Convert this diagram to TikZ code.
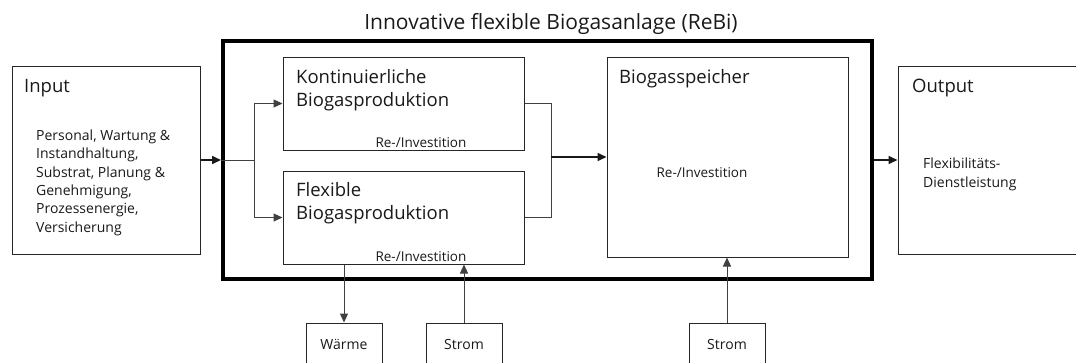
\documentclass[tikz,border=0pt]{standalone}
\usepackage{fontspec}
\setmainfont{Open Sans}
\usetikzlibrary{arrows.meta}

\tikzset{
  box/.style={draw=black!85, line width=1pt, rectangle, inner sep=0pt},
  frame/.style={draw=black, line width=4pt, rectangle, inner sep=0pt},
  link/.style={draw=black!75, line width=1pt},
  arr/.style={link, -{Triangle[length=9pt,width=8pt]}},
  mainarr/.style={draw=black!90, line width=1.6pt, -{Triangle[length=9pt,width=8pt]}},
  heading/.style={anchor=base west, inner sep=0pt, font=\fontsize{18.5}{23}\selectfont, align=left, text=black!90},
  small/.style={anchor=base west, inner sep=0pt, font=\fontsize{14}{18.3}\selectfont, align=left, text=black!90},
  tiny/.style={anchor=base, inner sep=0pt, font=\fontsize{13.5}{15}\selectfont, text=black!90},
}

\begin{document}
\begin{tikzpicture}[x=1pt,y=-1pt]
\useasboundingbox (0,0) rectangle (1076,362);
\clip (0,0) rectangle (1076,362);

% title and outer frame
\node[anchor=base, inner sep=0pt, font=\fontsize{21}{24}\selectfont, text=black!90] (title) at (551,29) {Innovative flexible Biogasanlage (ReBi)};
\node[frame, minimum width=649pt, minimum height=238pt] (frame) at (547.5,160) {};

% input and output boxes (base anchors sit on the last text line)
\node[box, minimum width=188pt, minimum height=188pt] (input) at (106,160) {};
\node[heading] (inputlbl) at (24,92) {Input};
\node[small] (inputtxt) at (36,232) {Personal, Wartung \&\\Instandhaltung,\\Substrat, Planung \&\\Genehmigung,\\Prozessenergie,\\Versicherung};

\node[box, minimum width=190pt, minimum height=188pt] (output) at (993,160) {};
\node[heading] (outputlbl) at (912,92) {Output};
\node[small] (outputtxt) at (923,187) {Flexibilitäts-\\Dienstleistung};

% production units
\node[box, minimum width=241pt, minimum height=93pt] (kont) at (403.5,103.5) {};
\node[heading] (kontlbl) at (296,106) {Kontinuierliche\\Biogasproduktion};
\node[tiny] (kontinv) at (421,147) {Re-/Investition};

\node[box, minimum width=241pt, minimum height=93pt] (flex) at (403.5,217.5) {};
\node[heading] (flexlbl) at (296,219) {Flexible\\Biogasproduktion};
\node[tiny] (flexinv) at (421,261) {Re-/Investition};

% storage
\node[box, minimum width=241pt, minimum height=200pt] (store) at (727.5,157) {};
\node[heading] (storelbl) at (619,83) {Biogasspeicher};
\node[tiny] (storeinv) at (702,177) {Re-/Investition};

% external flows
\node[box, minimum width=76pt, minimum height=60pt] (heat) at (344,353) {};
\node[small, anchor=base] (heatlbl) at (344,349) {Wärme};
\node[box, minimum width=76pt, minimum height=60pt] (power1) at (464,353) {};
\node[small, anchor=base] (power1lbl) at (464,349) {Strom};
\node[box, minimum width=76pt, minimum height=60pt] (power2) at (727,353) {};
\node[small, anchor=base] (power2lbl) at (727,349) {Strom};

% connectors
\coordinate (split) at (254,160);
\coordinate (merge) at (551,157);
\draw[mainarr] (input.east) -- (frame.west |- input.east);
\draw[link] (frame.west |- input.east) -- (split);
\draw[arr] (split) |- (kont.west);
\draw[arr] (split) |- (flex.west);
\draw[link] (kont.east) -| (merge);
\draw[link] (flex.east) -| (merge);
\draw[mainarr] (merge) -- (store.west);
\draw[mainarr] (frame.east |- output.west) -- (output.west);
\draw[arr] (flex.south -| heat.north) -- (heat.north);
\draw[arr] (power1.north) -- (flex.south -| power1.north);
\draw[arr] (power2.north) -- (store.south -| power2.north);
\end{tikzpicture}
\end{document}
